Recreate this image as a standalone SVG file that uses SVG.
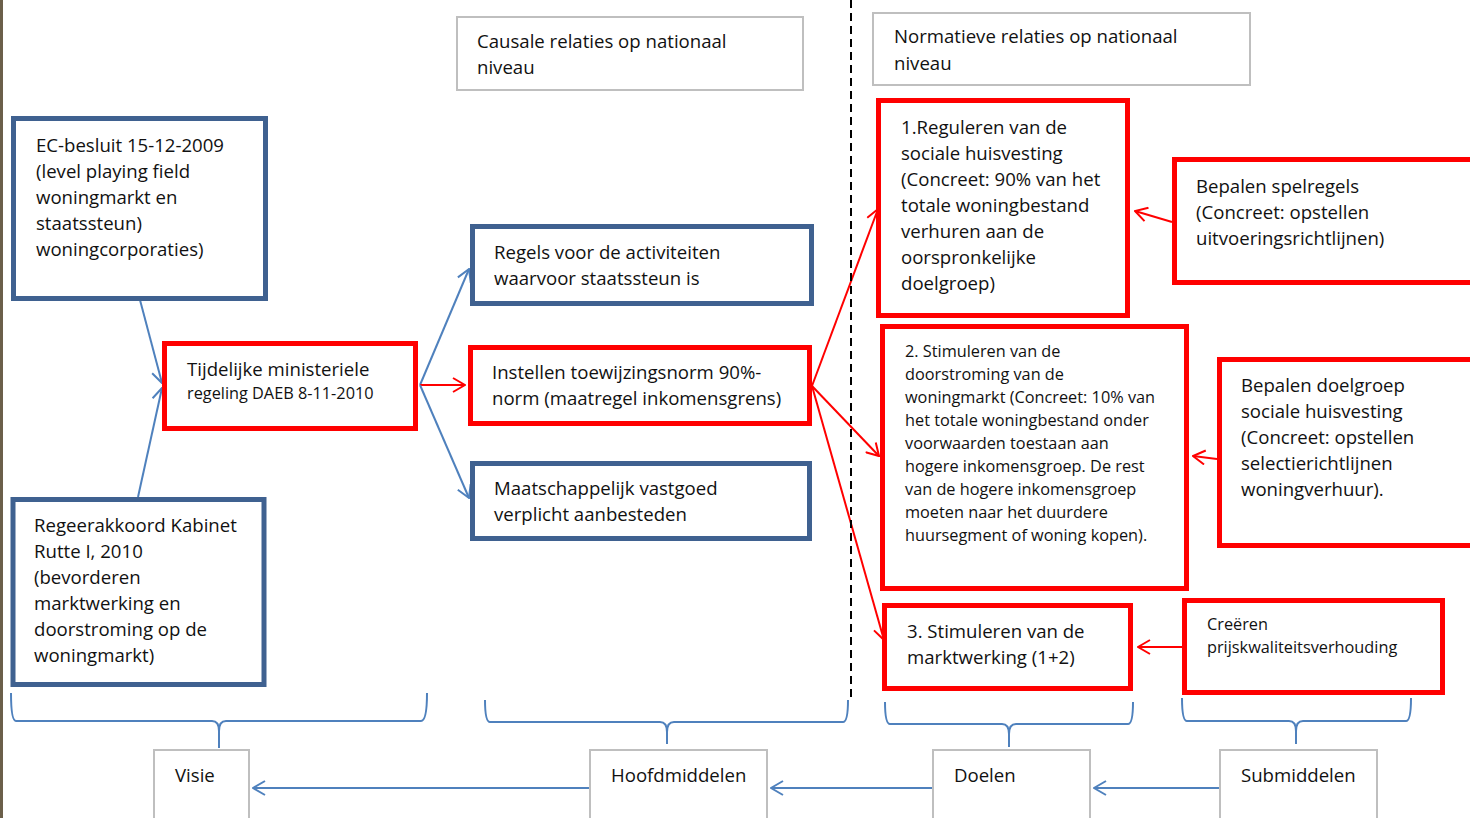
<svg xmlns="http://www.w3.org/2000/svg" width="1470" height="818" viewBox="0 0 1470 818">
<defs>
<style>
text{font-family:"Open Sans","Noto Sans","Liberation Sans",sans-serif;fill:#111;font-size:18.6px}
.sm{font-size:16.3px}
.bl{fill:#fff;stroke:#3f6190;stroke-width:5}
.rd{fill:#fff;stroke:#ff0000;stroke-width:5}
.gr{fill:#fff;stroke:#bfbfbf;stroke-width:2}
.cb{stroke:#4f81bd;stroke-width:2;fill:none}
.cr{stroke:#ff0000;stroke-width:2;fill:none}
</style>
<marker id="ab" viewBox="0 0 14 16" refX="13" refY="8" markerWidth="14" markerHeight="16" markerUnits="userSpaceOnUse" orient="auto"><path d="M1,1 L13,8 L1,15" fill="none" stroke="#4f81bd" stroke-width="2"/></marker>
<marker id="ar" viewBox="0 0 14 16" refX="13" refY="8" markerWidth="14" markerHeight="16" markerUnits="userSpaceOnUse" orient="auto"><path d="M1,1 L13,8 L1,15" fill="none" stroke="#ff0000" stroke-width="2"/></marker>
</defs>
<rect x="0" y="0" width="1470" height="818" fill="#fff"/>
<rect x="0" y="0" width="3" height="818" fill="#6b5f4a"/>

<g id="connectors">
<line class="cb" x1="140" y1="300" x2="162" y2="383" marker-end="url(#ab)"/>
<line class="cb" x1="138" y1="497" x2="162" y2="388" marker-end="url(#ab)"/>
<line class="cb" x1="420" y1="385" x2="469" y2="269" marker-end="url(#ab)"/>
<line class="cr" x1="420" y1="385" x2="465" y2="385" marker-end="url(#ar)"/>
<line class="cb" x1="420" y1="385" x2="469" y2="498" marker-end="url(#ab)"/>
<line class="cr" x1="812" y1="386" x2="878" y2="209" marker-end="url(#ar)"/>
<line class="cr" x1="812" y1="386" x2="879" y2="456" marker-end="url(#ar)"/>
<line class="cr" x1="812" y1="386" x2="884" y2="640" marker-end="url(#ar)"/>
<line class="cr" x1="1172" y1="222" x2="1135" y2="211" marker-end="url(#ar)"/>
<line class="cr" x1="1217" y1="459" x2="1193" y2="456" marker-end="url(#ar)"/>
<line class="cr" x1="1183" y1="647" x2="1138" y2="647" marker-end="url(#ar)"/>
<line x1="851" y1="0" x2="851" y2="702" stroke="#000" stroke-width="2" stroke-dasharray="8,5"/>
<line class="cb" x1="590" y1="788" x2="253" y2="788" marker-end="url(#ab)"/>
<line class="cb" x1="933" y1="788" x2="771" y2="788" marker-end="url(#ab)"/>
<line class="cb" x1="1220" y1="788" x2="1094" y2="788" marker-end="url(#ab)"/>
<path class="cb" d="M11,693 Q11,721 16,721 L212,721 Q219,721 219,731 L219,748 M219,731 Q219,721 226,721 L421,721 Q427,721 427,693"/>
<path class="cb" d="M485,700 Q485,722 490,722 L660,722 Q667,722 667,732 L667,744 M667,732 Q667,722 674,722 L843,722 Q848,722 848,700"/>
<path class="cb" d="M885,702 Q885,724 890,724 L1002,724 Q1009,724 1009,734 L1009,747 M1009,734 Q1009,724 1016,724 L1128,724 Q1133,724 1133,702"/>
<path class="cb" d="M1182,698 Q1182,721 1187,721 L1289,721 Q1296,721 1296,731 L1296,744 M1296,731 Q1296,721 1303,721 L1406,721 Q1411,721 1411,698"/>
</g>

<g id="causale"><rect class="gr" x="457" y="17" width="346" height="73"/><text x="477" y="48">Causale relaties op nationaal</text><text x="477" y="74">niveau</text></g>
<g id="normatieve"><rect class="gr" x="873" y="13" width="377" height="72"/><text x="894" y="43">Normatieve relaties op nationaal</text><text x="894" y="70">niveau</text></g>

<g id="ec"><rect class="bl" x="13.5" y="118.5" width="252" height="180"/>
<text x="36" y="152">EC-besluit 15-12-2009</text><text x="36" y="178">(level playing field</text><text x="36" y="204">woningmarkt en</text><text x="36" y="230">staatssteun)</text><text x="36" y="256">woningcorporaties)</text></g>

<g id="regeerakkoord"><rect class="bl" x="13" y="499.5" width="251" height="185"/>
<text x="34" y="532">Regeerakkoord Kabinet</text><text x="34" y="558">Rutte I, 2010</text><text x="34" y="584">(bevorderen</text><text x="34" y="610">marktwerking en</text><text x="34" y="636">doorstroming op de</text><text x="34" y="662">woningmarkt)</text></g>

<g id="tijdelijke"><rect class="rd" x="164.5" y="343.5" width="251" height="85"/>
<text x="187" y="376">Tijdelijke ministeriele</text><text x="187" y="399" class="sm">regeling DAEB 8-11-2010</text></g>

<g id="regels"><rect class="bl" x="472.5" y="226.5" width="339" height="77"/>
<text x="494" y="259">Regels voor de activiteiten</text><text x="494" y="285">waarvoor staatssteun is</text></g>

<g id="instellen"><rect class="rd" x="470.5" y="347.5" width="339" height="76"/>
<text x="492" y="379">Instellen toewijzingsnorm 90%-</text><text x="492" y="405">norm (maatregel inkomensgrens)</text></g>

<g id="maatschappelijk"><rect class="bl" x="472.5" y="463.5" width="337" height="75"/>
<text x="494" y="495">Maatschappelijk vastgoed</text><text x="494" y="521">verplicht aanbesteden</text></g>

<g id="doel1"><rect class="rd" x="878.5" y="100.5" width="249" height="215"/>
<text x="901" y="134">1.Reguleren van de</text><text x="901" y="160">sociale huisvesting</text><text x="901" y="186">(Concreet: 90% van het</text><text x="901" y="212">totale woningbestand</text><text x="901" y="238">verhuren aan de</text><text x="901" y="264">oorspronkelijke</text><text x="901" y="290">doelgroep)</text></g>

<g id="spelregels"><rect class="rd" x="1174.5" y="159.5" width="310" height="123"/>
<text x="1196" y="193">Bepalen spelregels</text><text x="1196" y="219">(Concreet: opstellen</text><text x="1196" y="245">uitvoeringsrichtlijnen)</text></g>

<g id="doel2"><rect class="rd" x="882.5" y="326.5" width="304" height="262"/>
<text x="905" y="357" class="sm">2. Stimuleren van de</text><text x="905" y="380" class="sm">doorstroming van de</text><text x="905" y="403" class="sm">woningmarkt (Concreet: 10% van</text><text x="905" y="426" class="sm">het totale woningbestand onder</text><text x="905" y="449" class="sm">voorwaarden toestaan aan</text><text x="905" y="472" class="sm">hogere inkomensgroep. De rest</text><text x="905" y="495" class="sm">van de hogere inkomensgroep</text><text x="905" y="518" class="sm">moeten naar het duurdere</text><text x="905" y="541" class="sm">huursegment of woning kopen).</text></g>

<g id="doelgroep"><rect class="rd" x="1219.5" y="359.5" width="265" height="186"/>
<text x="1241" y="392">Bepalen doelgroep</text><text x="1241" y="418">sociale huisvesting</text><text x="1241" y="444">(Concreet: opstellen</text><text x="1241" y="470">selectierichtlijnen</text><text x="1241" y="496">woningverhuur).</text></g>

<g id="doel3"><rect class="rd" x="884.5" y="605.5" width="246" height="83"/>
<text x="907" y="638">3. Stimuleren van de</text><text x="907" y="664">marktwerking (1+2)</text></g>

<g id="creeren"><rect class="rd" x="1184.5" y="600.5" width="258" height="92"/>
<text x="1207" y="630" class="sm">Creëren</text><text x="1207" y="653" class="sm">prijskwaliteitsverhouding</text></g>

<g id="visie"><rect class="gr" x="154" y="750" width="95" height="80"/><text x="175" y="782">Visie</text></g>
<g id="hoofdmiddelen"><rect class="gr" x="590" y="750" width="177" height="80"/><text x="611" y="782">Hoofdmiddelen</text></g>
<g id="doelen"><rect class="gr" x="933" y="750" width="157" height="80"/><text x="954" y="782">Doelen</text></g>
<g id="submiddelen"><rect class="gr" x="1220" y="750" width="157" height="80"/><text x="1241" y="782">Submiddelen</text></g>
</svg>
